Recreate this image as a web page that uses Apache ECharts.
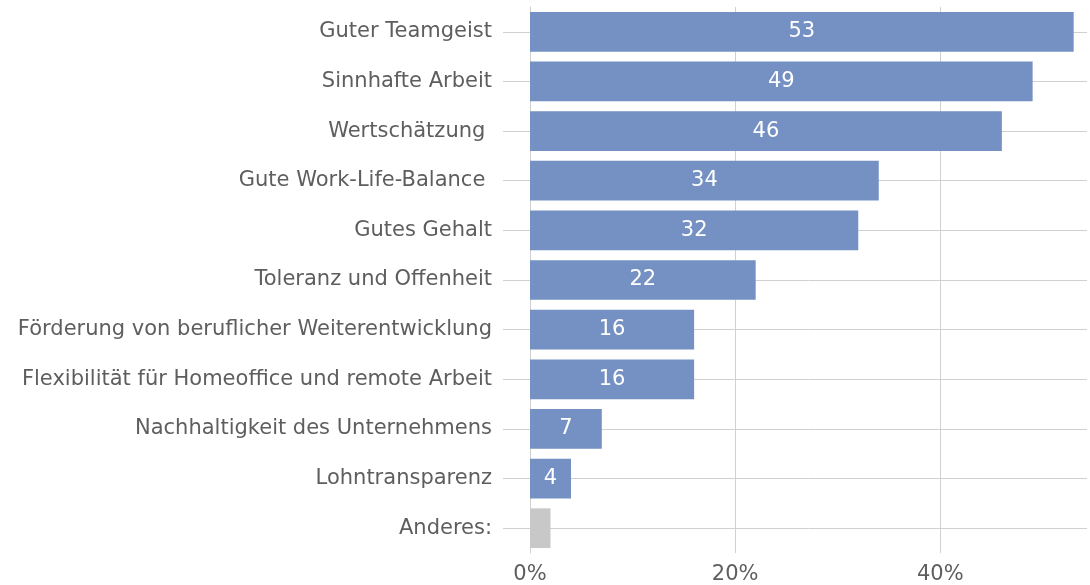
<!DOCTYPE html>
<html>
<head>
<meta charset="utf-8">
<script src="https://cdn.jsdelivr.net/npm/echarts@6/dist/echarts.min.js"></script>
<style>
  html, body { margin: 0; padding: 0; background: #fff; overflow: hidden; }
  #chart { width: 1090px; height: 585px; }
</style>
</head>
<body>
<div id="chart"></div>
<script>
  const categories = [
    'Guter Teamgeist',
    'Sinnhafte Arbeit',
    'Wertschätzung ',
    'Gute Work-Life-Balance ',
    'Gutes Gehalt',
    'Toleranz und Offenheit',
    'Förderung von beruflicher Weiterentwicklung',
    'Flexibilität für Homeoffice und remote Arbeit',
    'Nachhaltigkeit des Unternehmens',
    'Lohntransparenz',
    'Anderes:'
  ];
  const values = [53, 49, 46, 34, 32, 22, 16, 16, 7, 4, 2];
  const showLabel = [true, true, true, true, true, true, true, true, true, true, false];
  const xTicks = [0, 20, 40];

  const chart = echarts.init(document.getElementById('chart'));

  const fontFamily = 'DejaVu Sans';
  const textColor = '#5e5e5e';
  const lineColor = '#d0d0d0';

  const option = {
    animation: false,
    grid: { left: 530, right: 0, top: 7, bottom: 30, containLabel: false },
    xAxis: {
      type: 'value',
      min: 0,
      max: 54.3,
      interval: 20,
      axisLine: { show: false },
      axisTick: { show: false },
      splitLine: { show: true, showMaxLine: false, lineStyle: { color: lineColor, width: 1 } },
      axisLabel: {
        color: textColor,
        fontFamily: fontFamily,
        fontSize: 21,
        margin: 11,
        formatter: function (v) { return xTicks.indexOf(v) >= 0 ? v + '%' : ''; }
      }
    },
    yAxis: {
      type: 'category',
      inverse: true,
      data: categories,
      axisLine: { show: true, lineStyle: { color: lineColor } },
      axisTick: { show: true, alignWithLabel: true, length: 27, lineStyle: { color: lineColor } },
      splitLine: { show: true, alignWithLabel: true, lineStyle: { color: lineColor } },
      axisLabel: {
        color: textColor,
        fontFamily: fontFamily,
        fontSize: 21,
        margin: 38
      }
    },
    series: [{
      type: 'bar',
      barCategoryGap: '20%',
      data: values.map(function (v, i) {
        return {
          value: v,
          itemStyle: { color: i === values.length - 1 ? '#c8c8c8' : '#7591c4' },
          label: { show: showLabel[i] }
        };
      }),
      label: {
        show: true,
        position: 'inside',
        color: '#ffffff',
        fontFamily: fontFamily,
        fontSize: 21
      }
    }]
  };

  chart.setOption(option);

  window.addEventListener('resize', function () {
    chart.resize();
  });
</script>
</body>
</html>
